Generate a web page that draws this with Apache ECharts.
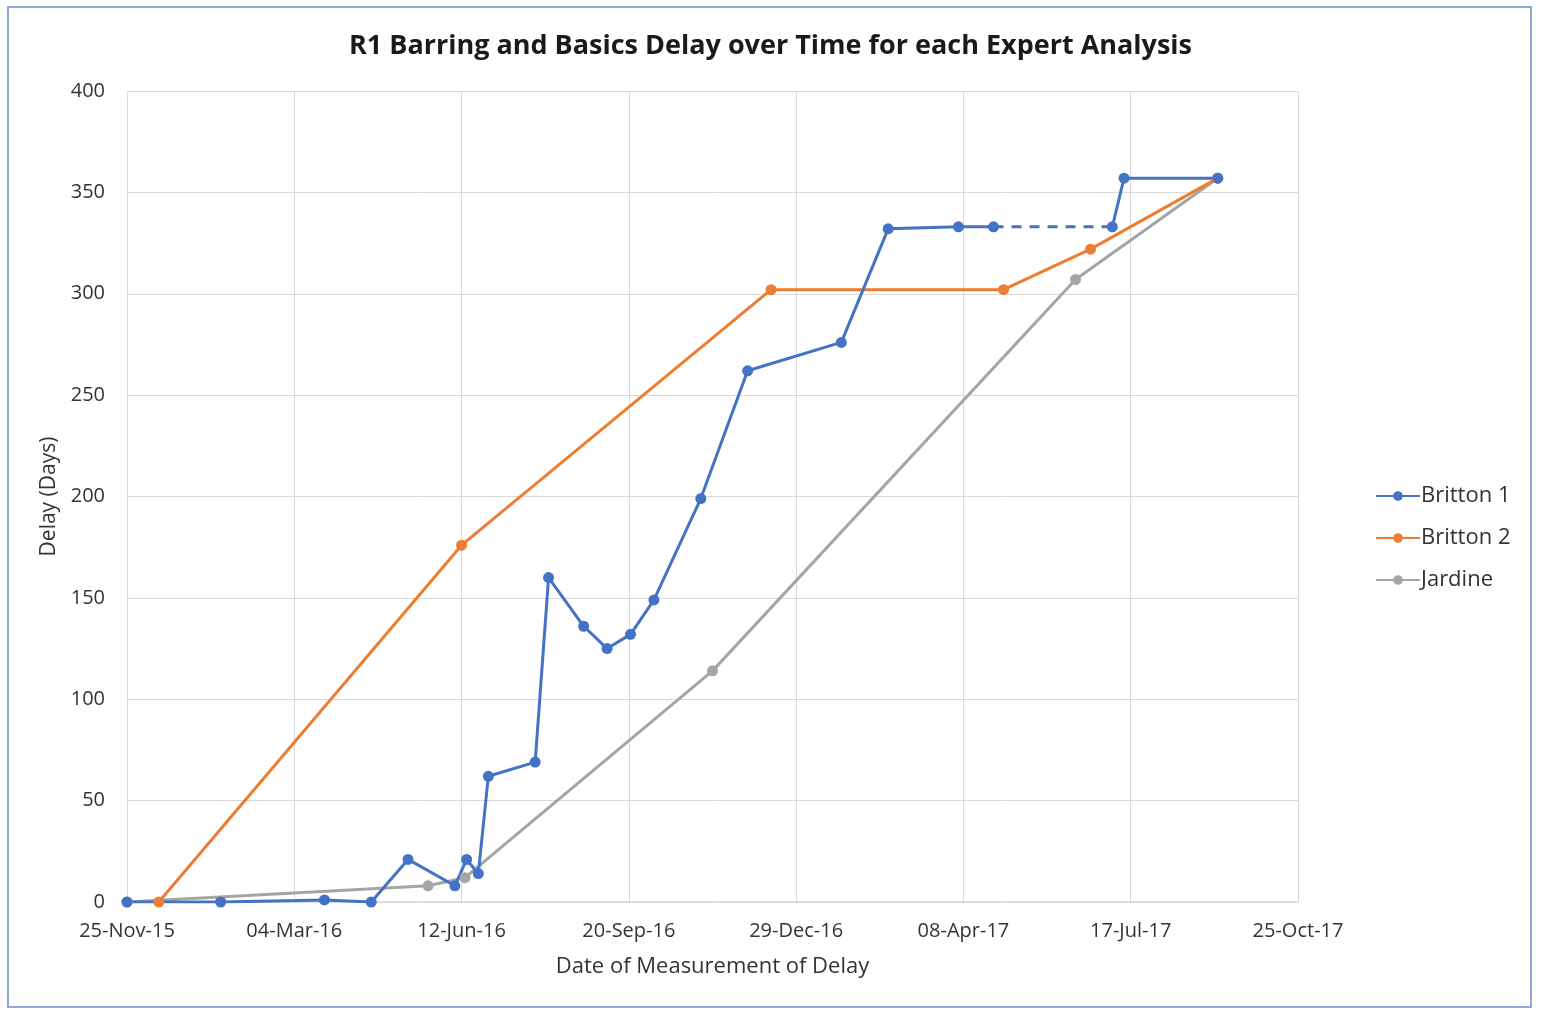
<!DOCTYPE html>
<html>
<head>
<meta charset="utf-8">
<script src="https://cdn.jsdelivr.net/npm/echarts@6/dist/echarts.min.js"></script>
<style>
html,body{margin:0;padding:0;background:#fff;}
#chart{width:1541px;height:1013px;}
</style>
</head>
<body>
<div id="chart"></div>
<script>
// ---- Data ----
const seriesNames = ['Britton 1', 'Britton 2', 'Jardine'];

const britton1Dates = ['2015-11-25','2016-01-20','2016-03-22','2016-04-19','2016-05-11','2016-06-08','2016-06-15','2016-06-22','2016-06-28','2016-07-26','2016-08-03','2016-08-24','2016-09-07','2016-09-21','2016-10-05','2016-11-02','2016-11-30','2017-01-25','2017-02-22','2017-04-05','2017-04-26','2017-07-06','2017-07-13','2017-09-07'];
const britton1Values = [0, 0, 1, 0, 21, 8, 21, 14, 62, 69, 160, 136, 125, 132, 149, 199, 262, 276, 332, 333, 333, 333, 357, 357];
// the segment between these two Britton 1 points is drawn dashed
const britton1DashedFrom = 20;

const britton2Dates = ['2015-12-14','2016-06-12','2016-12-14','2017-05-02','2017-06-23','2017-09-07'];
const britton2Values = [0, 176, 302, 302, 322, 357];

const jardineDates = ['2015-11-25','2016-05-23','2016-06-14','2016-11-09','2017-06-14','2017-09-07'];
const jardineValues = [0, 8, 12, 114, 307, 357];

const xTickStart = '2015-11-25';
const xTickStepDays = 100;
const xTickCount = 7;
const yMax = 400, yStep = 50;

// ---- Helpers ----
const BASE = Date.UTC(2015, 10, 25);
const MONTHS = ['Jan','Feb','Mar','Apr','May','Jun','Jul','Aug','Sep','Oct','Nov','Dec'];
function toDay(s) {
  const p = s.split('-').map(Number);
  return Math.round((Date.UTC(p[0], p[1] - 1, p[2]) - BASE) / 86400000);
}
function fmtDay(day) {
  const dt = new Date(BASE + day * 86400000);
  const dd = String(dt.getUTCDate()).padStart(2, '0');
  return dd + '-' + MONTHS[dt.getUTCMonth()] + '-' + String(dt.getUTCFullYear()).slice(2);
}
function pairs(dates, vals) { return dates.map((d, i) => [toDay(d), vals[i]]); }

const b1 = pairs(britton1Dates, britton1Values);
const b1Solid = b1.slice(0, britton1DashedFrom + 1).concat([[ (b1[britton1DashedFrom][0] + b1[britton1DashedFrom + 1][0]) / 2, '-' ]]).concat(b1.slice(britton1DashedFrom + 1));
const b1Dash = [b1[britton1DashedFrom], b1[britton1DashedFrom + 1]];

const COLORS = ['#4472C4', '#ED7D31', '#A5A5A5'];
const FONT = 'Open Sans';
const TXT = '#333333';

const chart = echarts.init(document.getElementById('chart'), null, {renderer: 'canvas'});
const lineBase = (name, data, color) => ({
  name, type: 'line', data, color,
  symbol: 'circle', symbolSize: 11,
  lineStyle: {width: 3, color},
  itemStyle: {color},
  connectNulls: false,
  animation: false,
  z: 3
});

chart.setOption({
  backgroundColor: '#ffffff',
  animation: false,
  textStyle: {fontFamily: FONT},
  title: {
    text: 'R1 Barring and Basics Delay over Time for each Expert Analysis',
    left: 'center', top: 28,
    textStyle: {fontFamily: FONT, fontSize: 27, fontWeight: 'bold', color: '#1a1a1a'}
  },
  graphic: [{
    type: 'rect', silent: true, z: -1,
    shape: {x: 8, y: 7, width: 1523, height: 1000},
    style: {fill: 'none', stroke: '#8eaadb', lineWidth: 2}
  }],
  legend: {
    data: seriesNames,
    orient: 'vertical',
    left: 1370, top: 480,
    itemWidth: 44, itemHeight: 12,
    itemGap: 20,
    textStyle: {fontFamily: FONT, fontSize: 22, color: TXT, padding: [0, 0, 0, -4]}
  },
  grid: {left: 127, right: 243, top: 91, bottom: 111, containLabel: false},
  xAxis: {
    type: 'value',
    min: toDay(xTickStart), max: toDay(xTickStart) + xTickStepDays * xTickCount, interval: xTickStepDays,
    name: 'Date of Measurement of Delay',
    nameLocation: 'middle', nameGap: 54,
    nameTextStyle: {fontFamily: FONT, fontSize: 22, color: TXT},
    axisLine: {show: true, lineStyle: {color: '#d9d9d9', width: 1.5}},
    axisTick: {show: false},
    splitLine: {show: true, lineStyle: {color: '#d9d9d9', width: 1}},
    axisLabel: {margin: 19, fontSize: 20, color: TXT, fontFamily: FONT, formatter: v => fmtDay(v), showMaxLabel: true, showMinLabel: true}
  },
  yAxis: {
    type: 'value', min: 0, max: yMax, interval: yStep,
    name: 'Delay (Days)',
    nameLocation: 'middle', nameGap: 66,
    nameTextStyle: {fontFamily: FONT, fontSize: 21, color: TXT},
    axisLine: {show: false},
    axisTick: {show: false},
    splitLine: {show: true, lineStyle: {color: '#d9d9d9', width: 1}},
    axisLabel: {margin: 22, fontSize: 20, color: TXT, fontFamily: FONT}
  },
  series: [
    lineBase('Jardine', pairs(jardineDates, jardineValues), COLORS[2]),
    lineBase('Britton 2', pairs(britton2Dates, britton2Values), COLORS[1]),
    lineBase('Britton 1', b1Solid, COLORS[0]),
    {
      name: 'Britton 1 (dashed)', type: 'line', data: b1Dash,
      symbol: 'none', lineStyle: {width: 3, color: COLORS[0], type: [10, 8]},
      color: COLORS[0], animation: false, z: 2
    }
  ]
});
</script>
</body>
</html>
